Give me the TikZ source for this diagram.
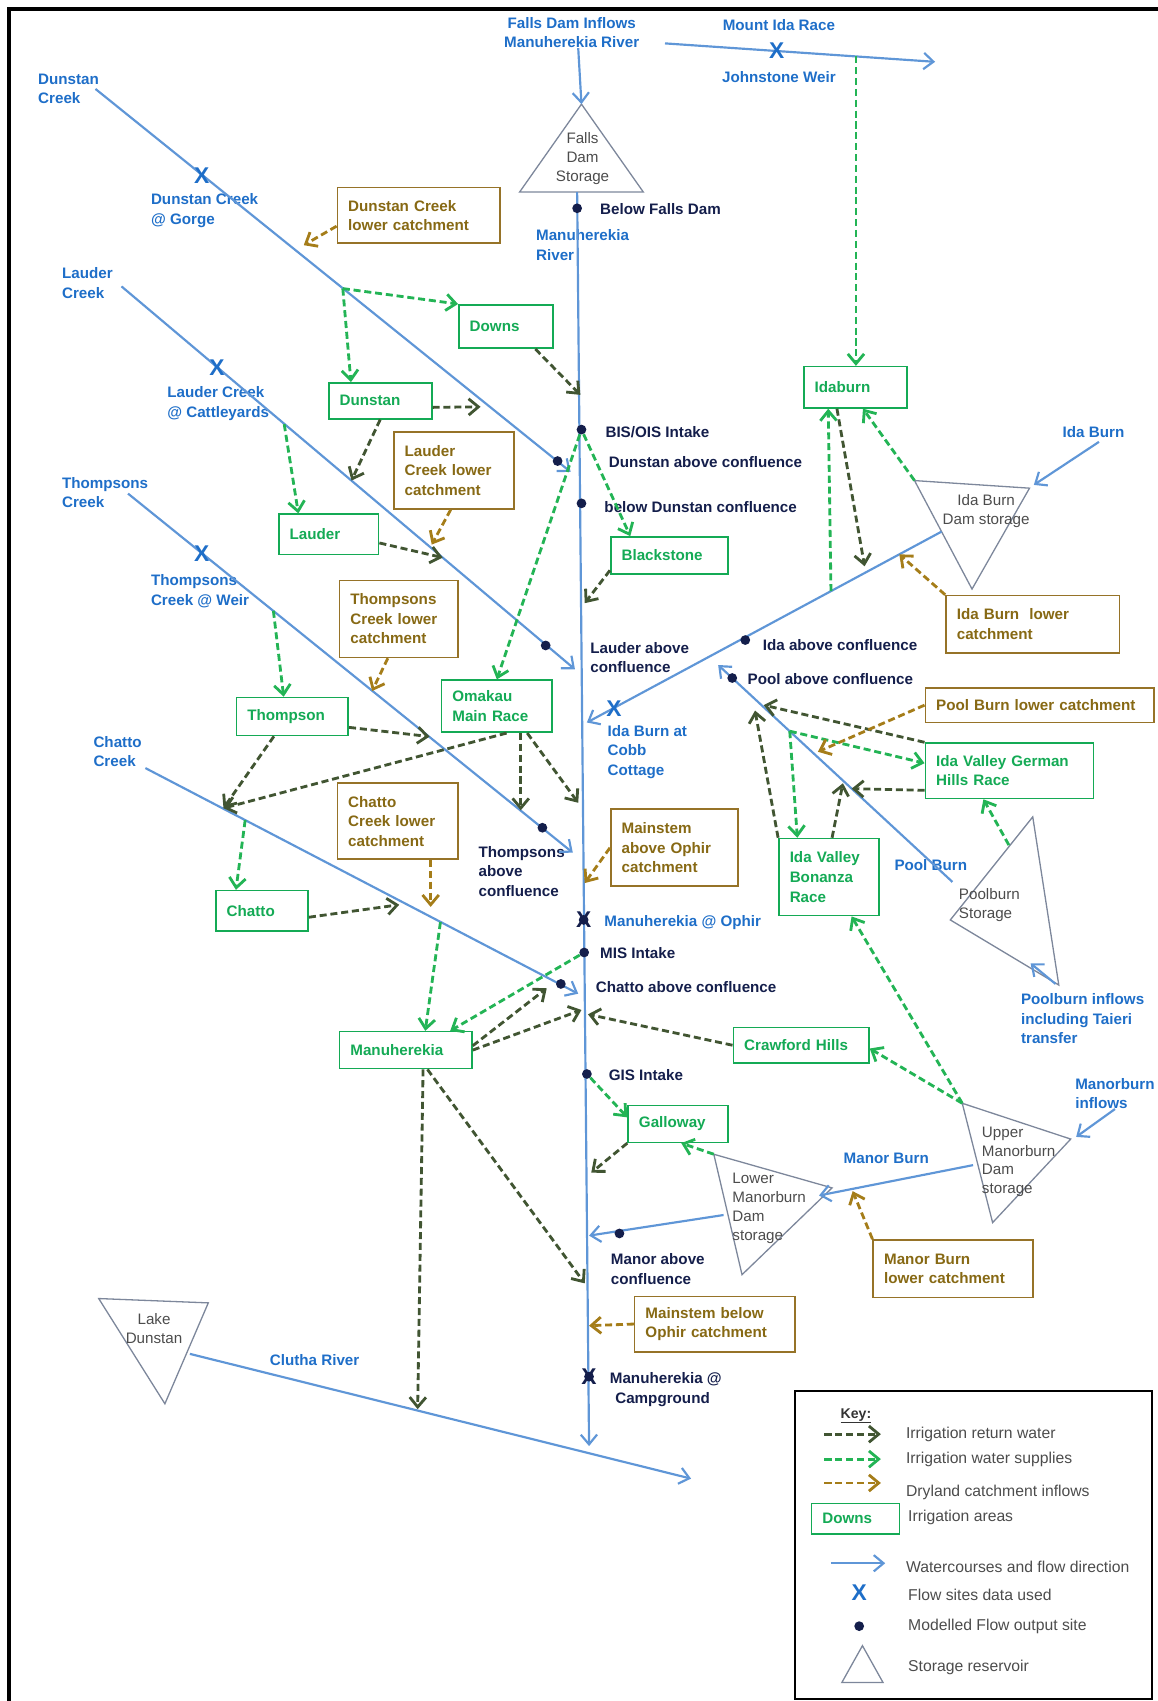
\documentclass[tikz,border=0pt]{standalone}
\usepackage{fontspec}
\setmainfont{Liberation Sans}
\usetikzlibrary{arrows.meta,positioning}

\definecolor{rivline}{RGB}{95,150,215}
\definecolor{rivtext}{RGB}{30,110,200}
\definecolor{navy}{RGB}{20,30,75}
\definecolor{areagreen}{RGB}{20,170,85}
\definecolor{supgreen}{RGB}{35,180,85}
\definecolor{retgreen}{RGB}{65,85,50}
\definecolor{drybrown}{RGB}{165,125,25}
\definecolor{catchbrown}{RGB}{150,115,40}
\definecolor{catchtext}{RGB}{135,105,20}
\definecolor{storegray}{RGB}{125,135,155}

\begin{document}
\begin{tikzpicture}[x=1pt,y=-1pt,>={Straight Barb[length=9pt,width=15pt]},
  river/.style={->,draw=rivline,line width=2pt},
  supply/.style={->,draw=supgreen,line width=2.6pt,dash pattern=on 6.5pt off 3.5pt},
  ret/.style={->,draw=retgreen,line width=2.6pt,dash pattern=on 6.5pt off 3.5pt},
  dry/.style={->,draw=drybrown,line width=2.6pt,dash pattern=on 6.5pt off 3.5pt},
  area/.style={draw=areagreen,text=areagreen,fill=white,line width=1.5pt,align=left,inner xsep=10pt,inner ysep=0pt,font=\fontsize{14}{18}\selectfont\bfseries},
  catch/.style={area,draw=catchbrown,text=catchtext},
  store/.style={draw=storegray,line width=1.2pt},
  storetext/.style={text=black!70,align=center,inner sep=0pt,font=\fontsize{14}{17.5}\selectfont},
  rlabel/.style={text=rivtext,align=left,inner sep=0pt,font=\fontsize{14}{18}\selectfont\bfseries},
  slabel/.style={rlabel,text=navy},
  site/.style={circle,fill=navy,inner sep=0pt,minimum size=9pt},
  flowx/.style={text=rivtext,inner sep=0pt,font=\fontsize{21}{21}\selectfont\bfseries},
  keytext/.style={anchor=west,text=black!70,inner sep=0pt,font=\fontsize{14.5}{17}\selectfont}]
\useasboundingbox (0,0) rectangle (1067,1568);
\draw[line width=3.5pt] (1067,8) -- (8,8) -- (8,1568);

% storages
\coordinate (fdA) at (536,96);
\coordinate (fdL) at (479,177);
\coordinate (fdR) at (593,177);
\draw[store] (fdA) -- (fdL) -- (fdR) -- cycle;
\node[storetext] (falls) at (537,146) {Falls\\Dam\\Storage};
\coordinate (itL) at (843,443);
\coordinate (itR) at (949,450);
\coordinate (itB) at (896,543);
\draw[store] (itL) -- (itR) -- (itB) -- cycle;
\node[storetext] (idadam) at (909,471) {Ida Burn\\Dam storage};
\coordinate (ptT) at (952,753);
\coordinate (ptL) at (876,848);
\coordinate (ptB) at (976,908);
\draw[store] (ptT) -- (ptL) -- (ptB) -- cycle;
\node[storetext,align=left] (pooldam) at (912,834) {Poolburn\\Storage};
\coordinate (utT) at (887,1017);
\coordinate (utR) at (987,1050);
\coordinate (utB) at (915,1127);
\draw[store] (utT) -- (utR) -- (utB) -- cycle;
\node[storetext,align=left,anchor=west] (upperdam) at (905,1071) {Upper\\Manorburn\\Dam\\storage};
\coordinate (ltT) at (658,1064);
\coordinate (ltR) at (767,1095);
\coordinate (ltB) at (684,1175);
\draw[store] (ltT) -- (ltR) -- (ltB) -- cycle;
\node[storetext,align=left,anchor=west] (lowerdam) at (675,1114) {Lower\\Manorburn\\Dam\\storage};
\coordinate (ldL) at (91,1197);
\coordinate (ldR) at (192,1201);
\coordinate (ldB) at (152,1294);
\draw[store] (ldL) -- (ldR) -- (ldB) -- cycle;
\node[storetext] (lakedun) at (142,1225) {Lake\\Dunstan};

% watercourse names
\node[rlabel,align=center] (fdin) at (527,30) {Falls Dam Inflows\\Manuherekia River};
\node[rlabel,anchor=west] (mriver) at (494,226) {Manuherekia\\River};
\node[rlabel] (mira) at (718,23) {Mount Ida Race};
\node[rlabel] (jweir) at (718,71) {Johnstone Weir};
\node[rlabel,anchor=west] (dcname) at (35,82) {Dunstan\\Creek};
\node[rlabel,anchor=west] (dcgorge) at (139,194) {Dunstan Creek\\@ Gorge};
\node[rlabel,anchor=west] (lcname) at (57,261) {Lauder\\Creek};
\node[rlabel,anchor=west] (lccattle) at (154,372) {Lauder Creek\\@ Cattleyards};
\node[rlabel,anchor=west] (tcname) at (57,454) {Thompsons\\Creek};
\node[rlabel,anchor=west] (tcweir) at (139,545) {Thompsons\\Creek @ Weir};
\node[rlabel,anchor=west] (chname) at (86,693) {Chatto\\Creek};
\node[rlabel] (ibname) at (1008,398) {Ida Burn};
\node[rlabel,anchor=west] (cobb) at (560,693) {Ida Burn at\\Cobb\\Cottage};
\node[rlabel] (pbname) at (858,797) {Pool Burn};
\node[rlabel,anchor=west] (pbin) at (941,939) {Poolburn inflows\\including Taieri\\transfer};
\node[rlabel,anchor=west] (mbin) at (991,1008) {Manorburn\\inflows};
\node[rlabel] (mbname) at (817,1068) {Manor Burn};
\node[rlabel] (clname) at (290,1254) {Clutha River};
\node[rlabel,anchor=west] (ophname) at (557,850) {Manuherekia @ Ophir};

% modelled output site names
\node[slabel,anchor=west] (bfdname) at (553,193) {Below Falls Dam};
\node[slabel,anchor=west] (bisname) at (558,398) {BIS/OIS Intake};
\node[slabel,anchor=west] (dacname) at (561,426) {Dunstan above confluence};
\node[slabel,anchor=west] (bdcname) at (557,467) {below Dunstan confluence};
\node[slabel,anchor=west] (lacname) at (544,606) {Lauder above\\confluence};
\node[slabel,anchor=west] (iacname) at (703,595) {Ida above confluence};
\node[slabel,anchor=west] (pacname) at (689,626) {Pool above confluence};
\node[slabel,anchor=west] (tacname) at (441,803) {Thompsons\\above\\confluence};
\node[slabel,anchor=west] (misname) at (553,879) {MIS Intake};
\node[slabel,anchor=west] (cacname) at (549,910) {Chatto above confluence};
\node[slabel,anchor=west] (gisname) at (561,991) {GIS Intake};
\node[slabel,anchor=west] (macname) at (563,1170) {Manor above\\confluence};
\node[slabel,anchor=west] (cpgname) at (562,1281) {Manuherekia @\\\hspace{5pt}Campground};

% watercourses
\coordinate (mTop) at (532,177);
\coordinate (mEnd) at (543,1333);
\coordinate (dcS) at (88,82);
\coordinate (dcE) at (526,435);
\coordinate (lcS) at (112,264);
\coordinate (lcE) at (530,617);
\coordinate (tcS) at (118,455);
\coordinate (tcE) at (528,786);
\coordinate (chS) at (134,708);
\coordinate (chE) at (533,916);
\coordinate (ibS) at (868,490);
\coordinate (ibE) at (541,666);
\coordinate (pbS) at (878,813);
\coordinate (pbE) at (662,613);
\coordinate (muS) at (897,1074);
\coordinate (muE) at (755,1102);
\coordinate (mlS) at (667,1120);
\coordinate (mlE) at (543,1139);
\coordinate (clS) at (175,1248);
\coordinate (clE) at (637,1363);
\coordinate (mrS) at (613,40);
\coordinate (mrE) at (862,57);
\coordinate (ibTip) at (953,447);
\coordinate (pbInS) at (973,907);
\coordinate (pbInE) at (950,888);
\coordinate (mbTip) at (992,1048);
\draw[river] ([xshift=6pt]fdin.south) -- (fdA);
\draw[river] (mTop) -- (mEnd);
\draw[river] (mrS) -- (mrE);
\draw[river] (dcS) -- (dcE);
\draw[river] (lcS) -- (lcE);
\draw[river] (tcS) -- (tcE);
\draw[river] (chS) -- (chE);
\draw[river] ([xshift=5pt,yshift=-4pt]ibname.south) -- (ibTip);
\draw[river] (ibS) -- (ibE);
\draw[river] (pbInS) -- (pbInE);
\draw[river] (pbS) -- (pbE);
\draw[river] (mbin.south) -- (mbTip);
\draw[river] (muS) -- (muE);
\draw[river] (mlS) -- (mlE);
\draw[river] (clS) -- (clE);

% flow sites and output sites
\node[flowx] (xdg) at (186,162) {X};
\node[flowx] (xlc) at (200,339) {X};
\node[flowx] (xtc) at (186,510) {X};
\node[flowx] (xjw) at (716,47) {X};
\node[flowx] (xib) at (566,653) {X};
\node[site] (bfd) at (532,192) {};
\node[site] (bis) at (536,396) {};
\node[site] (bdc) at (536,464) {};
\node[site] (dac) at (514,425) {};
\node[site] (lac) at (503,595) {};
\node[site] (tac) at (500,763) {};
\node[site] (cac) at (517,907) {};
\node[site] (iac) at (687,590) {};
\node[site] (pac) at (675,625) {};
\node[site] (mis) at (538.5,878) {};
\node[site] (gis) at (541,990) {};
\node[site] (mac) at (571,1137) {};
\node[site] (oph) at (538,848) {};
\node[flowx,text=navy] (ophx) at (538,848) {X};
\node[site] (cpg) at (543,1269) {};
\node[flowx,text=navy] (cpgx) at (543,1269) {X};

% irrigation areas
\node[area,text width=67pt,minimum height=40pt] (downs) at (466.5,301) {Downs};
\node[area,text width=75pt,minimum height=33pt] (dunstan) at (350.5,369.5) {Dunstan};
\node[area,text width=72pt,minimum height=37pt] (lauder) at (303,492.5) {Lauder};
\node[area,text width=88pt,minimum height=34pt] (blackstone) at (617,512) {Blackstone};
\node[area,text width=82pt,minimum height=48pt] (omakau) at (458,651) {Omakau\\Main Race};
\node[area,text width=83pt,minimum height=35pt] (thompson) at (269.5,660.5) {Thompson};
\node[area,text width=65pt,minimum height=37pt] (chatto) at (241.5,839.5) {Chatto};
\node[area,text width=102pt,minimum height=34pt] (manuh) at (374,968) {Manuherekia};
\node[area,text width=105pt,minimum height=33pt] (crawford) at (738.5,963.5) {Crawford Hills};
\node[area,text width=72pt,minimum height=34pt] (galloway) at (625,1036) {Galloway};
\node[area,text width=75pt,minimum height=38pt] (idaburn) at (788.5,357) {Idaburn};
\node[area,text width=135pt,minimum height=51pt] (german) at (930.5,710.5) {Ida Valley German\\Hills Race};
\node[area,text width=72pt,minimum height=71pt] (bonanza) at (764,808.5) {Ida Valley\\Bonanza\\Race};

% dryland catchments
\node[catch,text width=130pt,minimum height=51pt] (dclc) at (386,198.5) {Dunstan Creek\\lower catchment};
\node[catch,text width=91pt,minimum height=71pt] (lclc) at (418.5,433.5) {Lauder\\Creek lower\\catchment};
\node[catch,text width=89pt,minimum height=71pt] (tclc) at (367.5,570.5) {Thompsons\\Creek lower\\catchment};
\node[catch,text width=91pt,minimum height=70pt] (cclc) at (366.5,757) {Chatto\\Creek lower\\catchment};
\node[catch,text width=97pt,minimum height=71pt] (msao) at (621.5,781.5) {Mainstem\\above Ophir\\catchment};
\node[catch,text width=128pt,minimum height=51pt] (msbo) at (659,1220.5) {Mainstem below\\Ophir catchment};
\node[catch,text width=127pt,minimum height=53pt] (mblc) at (878.5,1169.5) {Manor Burn\\lower catchment};
\node[catch,text width=140pt,minimum height=53pt] (iblc) at (952,575.5) {Ida Burn\ \ lower\\catchment};
\node[catch,text width=191pt,minimum height=32pt] (pblc) at (958.5,650) {Pool Burn lower catchment};

% points where flows join the watercourses
\coordinate (mrJ) at (789,52);
\coordinate (dcJ) at (316,266);
\coordinate (dcC) at (280,226);
\coordinate (dunR) at (443,375);
\coordinate (lcJ) at (262,391);
\coordinate (lcD) at (324,443);
\coordinate (lcR) at (408,514);
\coordinate (lcC) at (398,502);
\coordinate (tcJ) at (252,563);
\coordinate (tcR) at (396,679);
\coordinate (tcC) at (343,637);
\coordinate (tcO) at (480,747);
\coordinate (chJ) at (226,756);
\coordinate (chT) at (206,745);
\coordinate (chR) at (368,834);
\coordinate (chC) at (397,836);
\coordinate (chJ2) at (406,850);
\coordinate (chM) at (504,911);
\coordinate (mDowns) at (535,364);
\coordinate (mBlack) at (539,556);
\coordinate (mOmak) at (533,740);
\coordinate (mMsao) at (539,814);
\coordinate (mManuh) at (536,931);
\coordinate (mCraw) at (542,935);
\coordinate (mGall) at (545,1081);
\coordinate (mManuh2) at (539,1183);
\coordinate (mMsbo) at (543,1222);
\coordinate (ibG) at (766,545);
\coordinate (ibR) at (797,522);
\coordinate (ibC) at (829,511);
\coordinate (pbJ) at (728,674);
\coordinate (pbG1) at (704,650);
\coordinate (pbG2) at (785,727);
\coordinate (pbB1) at (696,655);
\coordinate (pbB2) at (777,722);
\coordinate (pbC) at (754,693);
\coordinate (ptG) at (930,779);
\coordinate (muC) at (786,1098);
\coordinate (clM) at (385,1299);

% irrigation water supplies
\draw[supply] (mrJ) -- (mrJ |- idaburn.north);
\draw[supply] (dcJ) -- (downs.north west);
\draw[supply] (dcJ) -- ([xshift=-27pt]dunstan.north);
\draw[supply] (lcJ) -- ([xshift=-28pt]lauder.north);
\draw[supply] (tcJ) -- ([xshift=-8pt]thompson.north);
\draw[supply] (chJ) -- ([xshift=-24pt]chatto.north);
\draw[supply] (chJ2) -- ([xshift=18pt]manuh.north);
\draw[supply] (bis) -- (omakau.north);
\draw[supply] (bis) -- ([xshift=-36pt]blackstone.north);
\draw[supply] (mis) -- ([xshift=41pt]manuh.north);
\draw[supply] (gis) -- ([yshift=6pt]galloway.west);
\draw[supply] (ltT) -- ([xshift=3pt]galloway.south);
\draw[supply] (utT) -- ([xshift=21pt]bonanza.south);
\draw[supply] (utT) -- ([yshift=-3pt]crawford.east);
\draw[supply] (ptG) -- ([xshift=-24pt]german.south);
\draw[supply] (pbJ) -- ([yshift=7pt]german.west);
\draw[supply] (pbJ) -- ([xshift=-29pt]bonanza.north);
\draw[supply] (ibG) -- ([xshift=-25pt]idaburn.south);
\draw[supply] (itL) -- ([xshift=7pt]idaburn.south);

% irrigation return water
\draw[ret] ([xshift=27pt]downs.south) -- (mDowns);
\draw[ret] ([yshift=-6pt]dunstan.east) -- (dunR);
\draw[ret] (dunstan.south) -- (lcD);
\draw[ret] ([yshift=-8pt]lauder.east) -- (lcR);
\draw[ret] ([yshift=4pt]blackstone.south west) -- (mBlack);
\draw[ret] ([yshift=-10pt]thompson.east) -- (tcR);
\draw[ret] ([xshift=-17pt]thompson.south) -- (chT);
\draw[ret] ([xshift=9pt]omakau.south) -- (chT);
\draw[ret] ([xshift=22pt]omakau.south) -- (tcO);
\draw[ret] ([xshift=28pt]omakau.south) -- (mOmak);
\draw[ret] ([yshift=-6pt]chatto.east) -- (chR);
\draw[ret] ([yshift=4pt]manuh.east) -- (chM);
\draw[ret] (manuh.east) -- (mManuh);
\draw[ret] ([xshift=16pt]manuh.south) -- (clM);
\draw[ret] ([xshift=20pt]manuh.south) -- (mManuh2);
\draw[ret] (crawford.west) -- (mCraw);
\draw[ret] (galloway.south west) -- (mGall);
\draw[ret] ([xshift=-17pt]idaburn.south) -- (ibR);
\draw[ret] (german.north west) -- (pbG1);
\draw[ret] ([yshift=-18pt]german.west) -- (pbG2);
\draw[ret] (bonanza.north west) -- (pbB1);
\draw[ret] ([xshift=3pt]bonanza.north) -- (pbB2);

% dryland catchment inflows
\draw[dry] ([yshift=-10pt]dclc.west) -- (dcC);
\draw[dry] ([xshift=-3pt]lclc.south) -- (lcC);
\draw[dry] ([xshift=-10pt]tclc.south) -- (tcC);
\draw[dry] ([xshift=30.5pt]cclc.south) -- (chC);
\draw[dry] (msao.west) -- (mMsao);
\draw[dry] (msbo.west) -- (mMsbo);
\draw[dry] (mblc.north west) -- (muC);
\draw[dry] (iblc.north west) -- (ibC);
\draw[dry] (pblc.west) -- (pbC);

% key
\draw[line width=1.5pt] (733,1282) rectangle (1062,1566);
\node[text=black!80,inner sep=0pt,font=\fontsize{13}{15}\selectfont\bfseries] (key) at (789,1305) {\underline{Key:}};
\coordinate (k1a) at (760,1322); \coordinate (k1b) at (812,1322);
\coordinate (k2a) at (760,1345); \coordinate (k2b) at (812,1345);
\coordinate (k3a) at (760,1367); \coordinate (k3b) at (812,1367);
\coordinate (k5a) at (766,1441); \coordinate (k5b) at (816,1441);
\draw[ret] (k1a) -- (k1b);
\draw[supply] (k2a) -- (k2b);
\draw[dry] (k3a) -- (k3b);
\draw[river] (k5a) -- (k5b);
\node[keytext,right=23pt of k1b] (k1t) {Irrigation return water};
\node[keytext,right=23pt of k2b] (k2t) {Irrigation water supplies};
\node[keytext] (k3t) at (835,1376) {Dryland catchment inflows};
\node[area,text width=61pt,minimum height=28pt] (kdowns) at (788.5,1400) {Downs};
\node[keytext] (k4t) at (837,1399) {Irrigation areas};
\node[keytext] (k5t) at (835,1444) {Watercourses and flow direction};
\node[flowx] (kx) at (792,1468) {X};
\node[keytext] (k6t) at (837,1470) {Flow sites data used};
\node[site] (kdot) at (792,1499) {};
\node[keytext] (k7t) at (837,1499) {Modelled Flow output site};
\coordinate (k8L) at (776,1551); \coordinate (k8R) at (814,1551); \coordinate (k8T) at (795,1517);
\draw[store] (k8L) -- (k8R) -- (k8T) -- cycle;
\node[keytext] (k8t) at (837,1537) {Storage reservoir};
\end{tikzpicture}
\end{document}
